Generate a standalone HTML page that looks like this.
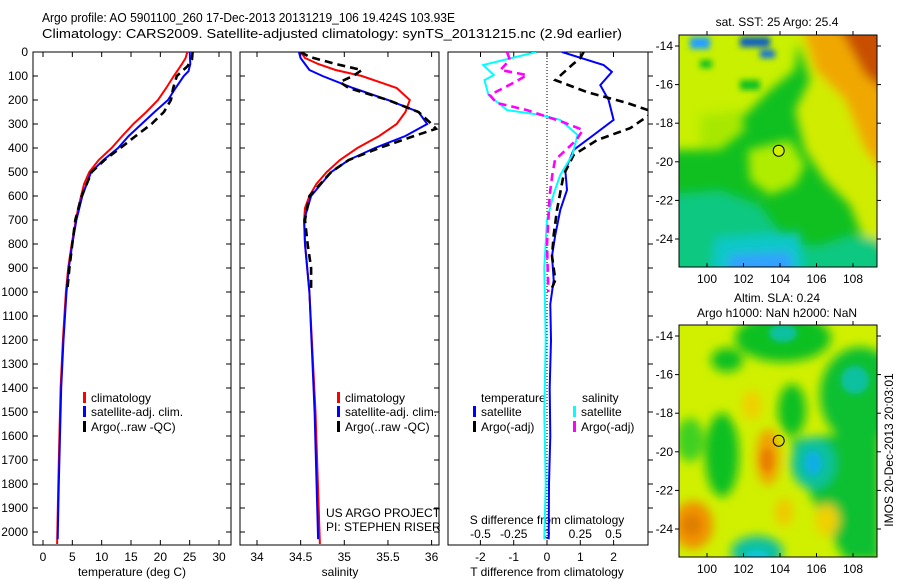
<!DOCTYPE html>
<html><head><meta charset="utf-8"><style>
html,body{margin:0;padding:0;background:#fff;}
svg{display:block;font-family:"Liberation Sans",sans-serif;}
text{fill:#000;}
</style></head><body>
<svg id="chart" width="900" height="580" viewBox="0 0 900 580" xmlns="http://www.w3.org/2000/svg">
<defs>
<clipPath id="c1"><rect x="33" y="52" width="198" height="493"/></clipPath>
<clipPath id="c2"><rect x="240" y="52" width="199" height="493"/></clipPath>
<clipPath id="c3"><rect x="448" y="52" width="200" height="493"/></clipPath>
<clipPath id="cm1"><rect x="679" y="35" width="198" height="232"/></clipPath>
<clipPath id="cm2"><rect x="679" y="325" width="198" height="232"/></clipPath>
<filter id="bl" x="-20%" y="-20%" width="140%" height="140%"><feGaussianBlur stdDeviation="5"/></filter>
<filter id="bl2" x="-20%" y="-20%" width="140%" height="140%"><feGaussianBlur stdDeviation="3"/></filter>
</defs>
<text x="42" y="22" font-size="13" textLength="413" lengthAdjust="spacingAndGlyphs">Argo profile: AO 5901100_260 17-Dec-2013 20131219_106 19.424S 103.93E</text>
<text x="42" y="38" font-size="13" textLength="580" lengthAdjust="spacingAndGlyphs">Climatology: CARS2009. Satellite-adjusted climatology: synTS_20131215.nc (2.9d earlier)</text>

<!-- SST map -->
<g>
<g clip-path="url(#cm1)">
<rect x="679" y="35" width="198" height="232" fill="#10c020"/>
<g filter="url(#bl)">
<polygon points="660,20 800,20 795,70 770,90 745,115 720,125 700,150 679,150 660,150" fill="#c8f000"/>
<polygon points="700,115 740,110 745,130 720,150 700,150" fill="#a8e800"/>
<polygon points="790,20 890,20 890,250 862,235 850,205 825,180 805,150 795,110 810,80" fill="#d0ec00"/>
<polygon points="800,20 890,20 890,180 865,150 845,100 815,70" fill="#f0a800"/>
<polygon points="835,20 890,20 890,95 865,75" fill="#c85000"/>
<polygon points="748,150 790,140 805,165 795,185 770,195 750,180" fill="#b0ec00"/>
<polygon points="660,195 720,190 760,205 790,245 820,245 850,235 880,240 890,290 660,290" fill="#10c880"/>
<polygon points="715,238 800,232 805,290 710,290" fill="#10c8c8"/>
<polygon points="730,255 790,252 795,290 725,290" fill="#30a0ff"/>
</g>
<g filter="url(#bl2)">
<rect x="690" y="37" width="20" height="12" fill="#20a0ff"/>
<rect x="740" y="37" width="30" height="10" fill="#1060c0"/>
<rect x="760" y="50" width="15" height="8" fill="#1070e0"/>
<rect x="700" y="60" width="12" height="8" fill="#10c020"/>
<rect x="740" y="80" width="20" height="10" fill="#10c020"/>
</g>
</g>
<rect x="679" y="35" width="198" height="232" fill="none" stroke="#000"/>
<circle cx="778.7" cy="150.7" r="5.5" fill="#d0f000" stroke="#000"/>
<text x="777" y="26" font-size="12" text-anchor="middle">sat. SST: 25 Argo: 25.4</text>
</g>

<!-- SLA map -->
<g>
<g clip-path="url(#cm2)">
<rect x="679" y="325" width="198" height="232" fill="#d0f000"/>
<g filter="url(#bl)">
<ellipse cx="783" cy="338" rx="48" ry="24" fill="#10c020"/>
<ellipse cx="860" cy="395" rx="40" ry="48" fill="#10c030"/>
<ellipse cx="727" cy="360" rx="16" ry="12" fill="#10c020"/>
<ellipse cx="722" cy="455" rx="17" ry="42" fill="#10c020"/>
<ellipse cx="792" cy="410" rx="14" ry="26" fill="#10c020"/>
<ellipse cx="690" cy="440" rx="14" ry="22" fill="#40d020"/>
<polygon points="790,440 880,430 880,560 845,560 815,505" fill="#10c030"/>
<ellipse cx="813" cy="463" rx="22" ry="26" fill="#10c0a0"/>
<ellipse cx="757" cy="552" rx="26" ry="16" fill="#10c0a0"/>
<ellipse cx="768" cy="457" rx="12" ry="28" fill="#f0a000"/>
<ellipse cx="752" cy="405" rx="10" ry="15" fill="#f0d000"/>
<ellipse cx="693" cy="525" rx="20" ry="24" fill="#f09000"/>
<ellipse cx="827" cy="520" rx="12" ry="16" fill="#f0d000"/>
<ellipse cx="784" cy="512" rx="9" ry="14" fill="#f0c800"/>
</g>
<g filter="url(#bl2)">
<ellipse cx="855" cy="380" rx="14" ry="14" fill="#10c0a0"/>
<ellipse cx="783" cy="333" rx="14" ry="9" fill="#10c0a0"/>
<ellipse cx="813" cy="463" rx="9" ry="12" fill="#10b0e0"/>
<ellipse cx="757" cy="557" rx="12" ry="7" fill="#10c8d8"/>
<ellipse cx="767" cy="460" rx="6" ry="12" fill="#e88000"/>
<ellipse cx="692" cy="525" rx="9" ry="10" fill="#e08000"/>
</g>
</g>
<rect x="679" y="325" width="198" height="232" fill="none" stroke="#000"/>
<circle cx="778.7" cy="440.7" r="5.5" fill="none" stroke="#000"/>
<text x="777" y="302" font-size="12" text-anchor="middle">Altim. SLA: 0.24</text>
<text x="777" y="317" font-size="12" text-anchor="middle">Argo h1000: NaN h2000: NaN</text>
</g>
<text transform="translate(893,450) rotate(-90)" font-size="12" text-anchor="middle">IMOS 20-Dec-2013 20:03:01</text>

<g id="plots"></g>
</svg>
<script>
// ---------- data ----------
var depthTicks=[0,100,200,300,400,500,600,700,800,900,1000,1100,1200,1300,1400,1500,1600,1700,1800,1900,2000];
var tempTicks=[0,5,10,15,20,25,30];
var salTicks=[34,34.5,35,35.5,36];
var tdiffTicks=[-2,-1,0,1,2];
var sdiffTicks=[-0.5,-0.25,0,0.25,0.5];
var sdiffTickLabels=["-0.5","-0.25","0","0.25","0.5"];
var lonTicks=[100,102,104,106,108];
var latTicks=[-14,-16,-18,-20,-22,-24];

var tempClimDepth=[0,25,50,100,150,200,250,300,350,400,450,500,550,600,650,700,800,900,1000,1200,1400,1600,1800,2050];
var tempClim=[24.6,24.3,23.7,22.3,21,19.6,17.6,15.4,13.5,11.7,9.5,7.9,7.0,6.5,6.0,5.6,4.9,4.3,3.9,3.4,3.0,2.8,2.6,2.4];
var tempSatDepth=[0,50,80,100,150,200,250,300,350,400,450,500,600,700,800,900,1000,1200,1400,1600,1800,2030];
var tempSat=[25.0,25.1,24.8,24.0,22.6,21.3,19.0,16.8,14.6,12.8,10.3,8.2,6.7,5.7,5.0,4.4,4.0,3.5,3.1,2.9,2.7,2.5];
var tempArgoDepth=[0,30,60,100,150,200,250,300,350,400,450,500,600,700,800,900,1000];
var tempArgo=[25.5,25.4,24.6,22.8,22.2,21.8,20.6,18.5,15.8,13.2,10.5,8.3,6.6,5.5,5.0,4.5,4.1];

var salClimDepth=[0,25,50,75,100,150,200,250,300,350,400,450,500,550,600,650,700,800,1000,1500,2050];
var salClim=[34.5,34.55,34.7,34.9,35.2,35.6,35.75,35.7,35.6,35.4,35.15,34.95,34.8,34.68,34.6,34.55,34.54,34.55,34.6,34.67,34.72];
var salSatDepth=[0,25,50,75,100,150,200,250,300,350,400,450,500,600,700,800,1000,1500,2030];
var salSat=[34.48,34.5,34.55,34.6,34.75,35.1,35.5,35.85,35.95,35.7,35.35,35.05,34.85,34.62,34.54,34.55,34.6,34.66,34.7];
var salArgoDepth=[0,20,50,75,100,125,150,200,250,300,320,350,400,450,500,600,700,800,900,1000];
var salArgo=[34.5,34.6,34.9,35.2,35.1,34.95,35.05,35.5,35.85,36.0,36.05,35.8,35.4,35.05,34.85,34.6,34.55,34.58,34.62,34.62];

var tdSatDepth=[0,54,83,138,200,283,346,408,492,575,658,762,850,950,1050,1200,1400,1600,1800,2030];
var tdSat=[0.45,1.7,1.95,1.6,1.85,2.0,1.4,0.8,0.55,0.6,0.4,0.25,0.15,0.2,0.1,0.12,0.08,0.1,0.06,0.05];
var tdArgoDepth=[0,25,54,117,167,212,250,317,367,429,512,658,762,850,950,1000];
var tdArgo=[1.1,1.0,0.75,0.25,1.2,2.4,3.2,2.5,1.5,0.8,0.5,0.3,0.2,0.15,0.25,0.1];
var sdSatDepth=[0,54,96,117,179,242,262,283,346,429,512,592,700,900,1200,1500,1800,2030];
var sdSat=[-0.08,-0.48,-0.4,-0.47,-0.44,-0.3,-0.05,0.1,0.23,0.19,0.1,0.05,0.0,-0.02,-0.01,-0.02,-0.01,-0.02];
var sdArgoDepth=[0,33,75,96,125,179,212,242,292,325,367,450,512,595,800,1000];
var sdArgo=[-0.3,-0.28,-0.35,-0.15,-0.24,-0.43,-0.38,-0.15,0.12,0.27,0.22,0.06,0.04,0.02,0.0,0.01];

// ---------- axes ----------
function yD(d){return 52+d*0.24;}
function xT(t){return 43+t*5.867;}
function xS(s){return 257+(s-34)*87.3;}
function xTD(v){return 547+v*33.3;}
function xSD(v){return 547+v*133;}
function lonX(l){return 707+(l-100)*18.25;}
function latY(l,top){return top+11+(-14-l)*19.3;}

var NS="http://www.w3.org/2000/svg";
var root=document.getElementById('plots');
function mk(tag,attrs,parent){var e=document.createElementNS(NS,tag);for(var k in attrs)e.setAttribute(k,attrs[k]);(parent||root).appendChild(e);return e;}
function txt(s,x,y,anchor,parent,size){var t=mk('text',{x:x,y:y,'font-size':size||12,'text-anchor':anchor||'middle'},parent);t.textContent=s;return t;}

function line(xs,ds,xf,color,dash,clip,name){
  var p='';for(var i=0;i<xs.length;i++){p+=(i?'L':'M')+xf(xs[i]).toFixed(1)+','+yD(ds[i]).toFixed(1);}
  var a={d:p,fill:'none',stroke:color,'stroke-width':dash?2.6:2,'clip-path':'url(#'+clip+')'};
  if(dash)a['stroke-dasharray']='8,5';
  var e=mk('path',a);
  
  
}

function panel(x0,x1,clip,name){
  var g=mk('g',{});
  
  
  mk('rect',{x:x0,y:52,width:x1-x0,height:493,fill:'none',stroke:'#000','stroke-width':1},g);
  return g;
}
function depthTicksDraw(g,x0,x1,labels,outsideRight){
  depthTicks.forEach(function(d){
    var y=yD(d);
    if(outsideRight){mk('line',{x1:x1,x2:x1+5,y1:y,y2:y,stroke:'#000'},g);}
    else{
      mk('line',{x1:x0,x2:x0+5,y1:y,y2:y,stroke:'#000'},g);
      mk('line',{x1:x1-5,x2:x1,y1:y,y2:y,stroke:'#000'},g);
    }
    if(labels){var t=txt(String(d),28,y+4,'end',g);
      
      }
  });
}
function xTicksDraw(g,ticks,xf,top,labs){
  ticks.forEach(function(v,i){
    var x=xf(v);
    mk('line',{x1:x,x2:x,y1:545,y2:540,stroke:'#000'},g);
    if(top)mk('line',{x1:x,x2:x,y1:52,y2:57,stroke:'#000'},g);
    var t=txt(labs?labs[i]:String(v),x,561,'middle',g);
    
    
  });
}
function legendEntry(g,x,y,color,label){
  mk('rect',{x:x,y:y-10,width:3,height:11,fill:color},g);
  var t=txt(label,x+8,y,'start',g);
  
  
}

// Panel 1: temperature
var g1=panel(33,231,'c1','temperature-panel');
depthTicksDraw(g1,33,231,true,false);
xTicksDraw(g1,tempTicks,xT,true);
var t1=txt('temperature (deg C)',132,576,'middle',g1);


line(tempClim,tempClimDepth,xT,'#f00',false,'c1','temp-climatology-line');
line(tempSat,tempSatDepth,xT,'#00f',false,'c1','temp-satellite-line');
line(tempArgo,tempArgoDepth,xT,'#000',true,'c1','temp-argo-line');
legendEntry(g1,83,402,'#f00','climatology');
legendEntry(g1,83,416,'#00f','satellite-adj. clim.');
legendEntry(g1,83,431,'#000','Argo(..raw -QC)');

// Panel 2: salinity
var g2=panel(240,439,'c2','salinity-panel');
depthTicksDraw(g2,240,439,false,false);
xTicksDraw(g2,salTicks,xS,true);
var t2=txt('salinity',340,576,'middle',g2);


line(salClim,salClimDepth,xS,'#f00',false,'c2','sal-climatology-line');
line(salSat,salSatDepth,xS,'#00f',false,'c2','sal-satellite-line');
line(salArgo,salArgoDepth,xS,'#000',true,'c2','sal-argo-line');
legendEntry(g2,337,402,'#f00','climatology');
legendEntry(g2,337,416,'#00f','satellite-adj. clim.');
legendEntry(g2,337,431,'#000','Argo(..raw -QC)');
var n1=txt('US ARGO PROJECT',326,517,'start',g2);


var n2=txt('PI: STEPHEN RISER',326,531,'start',g2);



// Panel 3: differences
var g3=panel(448,648,'c3','difference-panel');
depthTicksDraw(g3,448,648,false,true);
xTicksDraw(g3,tdiffTicks,xTD,false);
sdiffTicks.forEach(function(v,i){
  var x=xSD(v);
  mk('line',{x1:x,x2:x,y1:52,y2:57,stroke:'#000'},g3);
  var t=txt(sdiffTickLabels[i],x,538,'middle',g3);
  
  
});
mk('line',{x1:547,x2:547,y1:52,y2:545,stroke:'#000','stroke-dasharray':'1,2'},g3);
var t3=txt('T difference from climatology',547,576,'middle',g3);


var t4=txt('S difference from climatology',547,524,'middle',g3);


line(tdSat,tdSatDepth,xTD,'#00f',false,'c3','tdiff-satellite-line');
line(tdArgo,tdArgoDepth,xTD,'#000',true,'c3','tdiff-argo-line');
line(sdSat,sdSatDepth,xSD,'#0ff',false,'c3','sdiff-satellite-line');
line(sdArgo,sdArgoDepth,xSD,'#f0f',true,'c3','sdiff-argo-line');
var l1=txt('temperature',481,402,'start',g3);


var l2=txt('salinity',582,402,'start',g3);


legendEntry(g3,473,416,'#00f','satellite');
legendEntry(g3,473,431,'#000','Argo(-adj)');
legendEntry(g3,573,416,'#0ff','satellite');
legendEntry(g3,573,431,'#f0f','Argo(-adj)');

// Map axes
[35,325].forEach(function(top,mi){
  var g=mk('g',{});
  
  
  var bottom=top+232;
  lonTicks.forEach(function(l){
    var x=lonX(l);
    mk('line',{x1:x,x2:x,y1:bottom,y2:bottom-4,stroke:'#000'},g);
    mk('line',{x1:x,x2:x,y1:top,y2:top-4,stroke:'#000'},g);
    var t=txt(String(l),x,bottom+16,'middle',g);
    
    
  });
  latTicks.forEach(function(l){
    var y=latY(l,top);
    mk('line',{x1:679,x2:675,y1:y,y2:y,stroke:'#000'},g);
    mk('line',{x1:877,x2:881,y1:y,y2:y,stroke:'#000'},g);
    var t=txt(String(l),673,y+4,'end',g);
    
    
  });
});
</script>
</body></html>
